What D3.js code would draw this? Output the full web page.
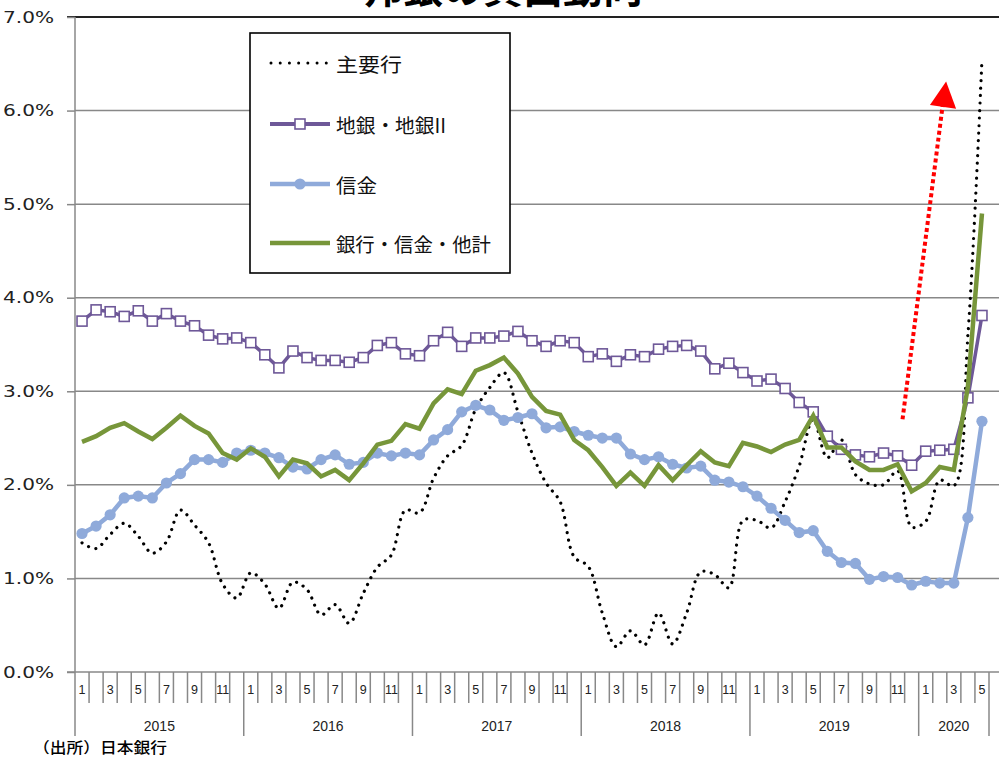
<!DOCTYPE html>
<html><head><meta charset="utf-8">
<script src="https://cdn.jsdelivr.net/npm/d3@7"></script>
<style>
html,body{margin:0;padding:0;background:#fff;}
svg{display:block;}
</style></head>
<body>
<div id="chart"></div>
<script>
// ---- data ----
const years = [2015, 2016, 2017, 2018, 2019, 2020];
const monthsPerYear = [12, 12, 12, 12, 12, 5];
const yTicks = [0, 1, 2, 3, 4, 5, 6, 7];
const seriesNames = ["主要行", "地銀・地銀II", "信金", "銀行・信金・他計"];
const titleText = "邦銀の貸出動向";
const sourceText = "（出所）日本銀行";

const majorBanks = [
  1.38,1.32,1.47,1.59,1.45,1.27,1.39,1.73,1.57,1.38,0.94,0.79,
  1.06,0.94,0.68,0.96,0.88,0.61,0.72,0.52,0.84,1.12,1.25,1.73,
  1.70,2.07,2.31,2.42,2.81,3.04,3.20,2.78,2.34,2.02,1.82,1.23,
  1.13,0.63,0.27,0.44,0.29,0.63,0.30,0.63,1.07,1.04,0.90,1.62,
  1.62,1.54,1.82,2.20,2.70,2.29,2.48,2.11,2.01,2.00,2.15,1.55,
  1.61,2.05,1.99,3.60,6.55
];
const regionalBanks = [
  3.75,3.87,3.85,3.80,3.86,3.75,3.83,3.75,3.70,3.60,3.56,3.57,
  3.52,3.39,3.25,3.43,3.36,3.33,3.33,3.31,3.36,3.49,3.52,3.40,
  3.38,3.54,3.63,3.48,3.57,3.57,3.59,3.64,3.54,3.48,3.54,3.52,
  3.37,3.40,3.32,3.39,3.37,3.45,3.48,3.49,3.43,3.24,3.30,3.20,
  3.11,3.13,3.03,2.88,2.78,2.52,2.38,2.32,2.30,2.34,2.31,2.21,
  2.36,2.37,2.38,2.93,3.81
];
const shinkin = [
  1.48,1.56,1.68,1.86,1.88,1.86,2.02,2.12,2.27,2.27,2.24,2.34,
  2.37,2.34,2.29,2.19,2.17,2.27,2.32,2.22,2.24,2.34,2.31,2.34,
  2.32,2.48,2.59,2.78,2.85,2.80,2.69,2.72,2.76,2.61,2.62,2.57,
  2.53,2.50,2.50,2.33,2.27,2.30,2.22,2.18,2.20,2.05,2.03,1.98,
  1.88,1.75,1.62,1.49,1.51,1.29,1.17,1.16,0.99,1.02,1.01,0.93,
  0.97,0.95,0.95,1.65,2.68
];
const totalAll = [
  2.46,2.52,2.61,2.66,2.57,2.49,2.61,2.74,2.63,2.55,2.34,2.27,
  2.39,2.30,2.09,2.27,2.23,2.09,2.16,2.05,2.23,2.43,2.47,2.65,
  2.60,2.87,3.02,2.97,3.22,3.28,3.36,3.19,2.94,2.79,2.75,2.48,
  2.37,2.19,1.99,2.13,1.99,2.21,2.05,2.21,2.36,2.24,2.20,2.45,
  2.41,2.35,2.43,2.48,2.74,2.40,2.40,2.25,2.16,2.16,2.22,1.93,
  2.02,2.19,2.16,3.05,4.90
];
// annotation arrow (in data units: category index, %)
const arrowStart = [58.35, 2.70];
const arrowEnd = [61.2, 6.05];
const arrowHead = [[61.45, 6.31], [60.3, 6.06], [62.16, 6.02]];

// ---- build categories ----
const cats = [];
years.forEach((yr, yi) => { for (let m = 1; m <= monthsPerYear[yi]; m++) cats.push({year: yr, month: m}); });

const W = 999, H = 759;
const pLeft = 75, pRight = 989, pTop = 17, pBottom = 672;
const svg = d3.select("#chart").append("svg").attr("width", W).attr("height", H);

const xb = d3.scaleBand().domain(d3.range(cats.length)).range([pLeft, pRight]).paddingInner(0).paddingOuter(0);
const bw = xb.bandwidth();
const xi = i => pLeft + (i + 0.5) * bw;
const y = d3.scaleLinear().domain([0, 7]).range([pBottom, pTop]);

const gridCol = "#888888";

// title (mostly cut off at top, as in the reference)
svg.append("text").attr("x", 503).attr("y", 3).attr("text-anchor", "middle")
  .attr("font-family", "Noto Sans CJK JP").attr("font-weight", "bold").attr("font-size", 40)
  .attr("fill", "#000").text(titleText);

// gridlines
svg.append("g").selectAll("line").data(yTicks.filter(v => v > 0 && v < 7)).join("line")
  .attr("x1", pLeft).attr("x2", W).attr("y1", d => y(d)).attr("y2", d => y(d))
  .attr("stroke", gridCol).attr("stroke-width", 1.5);
// top line
svg.append("line").attr("x1", 67).attr("x2", W).attr("y1", y(7)).attr("y2", y(7))
  .attr("stroke", "#222").attr("stroke-width", 2);

// y axis
const yAxis = d3.axisLeft(y).tickValues(yTicks).tickSize(8).tickFormat(d => d3.format(".1f")(d) + "%");
const gy = svg.append("g").attr("transform", `translate(${pLeft},0)`).call(yAxis);
gy.select(".domain").remove();
gy.selectAll(".tick line").attr("stroke", gridCol).attr("stroke-width", 1.5);
gy.selectAll(".tick text").attr("x", -21).attr("dy", null).attr("dominant-baseline", "central")
  .attr("font-family", "DejaVu Sans").attr("font-size", 15.5).attr("fill", "#222")
  .attr("textLength", 51).attr("lengthAdjust", "spacingAndGlyphs");
svg.append("line").attr("x1", pLeft).attr("x2", pLeft).attr("y1", pTop).attr("y2", pBottom)
  .attr("stroke", gridCol).attr("stroke-width", 1.5);

// x axis
svg.append("line").attr("x1", 67).attr("x2", W).attr("y1", pBottom).attr("y2", pBottom)
  .attr("stroke", gridCol).attr("stroke-width", 1.5);
const yearStarts = [];
let acc = 0;
monthsPerYear.forEach(n => { yearStarts.push(acc); acc += n; });
yearStarts.push(acc);
const bounds = d3.range(cats.length + 1);
svg.append("g").selectAll("line").data(bounds).join("line")
  .attr("x1", k => pLeft + k * bw).attr("x2", k => pLeft + k * bw)
  .attr("y1", pBottom).attr("y2", k => yearStarts.includes(k) ? 736 : 703)
  .attr("stroke", gridCol).attr("stroke-width", 1.5);
svg.append("g").selectAll("text").data(cats.map((c, i) => ({...c, i})).filter(c => c.month % 2 === 1)).join("text")
  .attr("x", d => xb(d.i) + bw / 2).attr("y", 693.5).attr("text-anchor", "middle")
  .attr("font-family", "Liberation Sans").attr("font-size", 12.5).attr("fill", "#222")
  .text(d => d.month);
svg.append("g").selectAll("text").data(years).join("text")
  .attr("x", (d, i) => pLeft + (yearStarts[i] + monthsPerYear[i] / 2) * bw).attr("y", 731)
  .attr("text-anchor", "middle").attr("font-family", "Liberation Sans").attr("font-size", 14)
  .attr("fill", "#222").text(d => d);

// series
const lineLin = d3.line().x((d, i) => xi(i)).y(d => y(d));
const lineSmooth = d3.line().x((d, i) => xi(i)).y(d => y(d)).curve(d3.curveCatmullRom.alpha(0.5));

const purple = "#6E5898", blue = "#8FAADA", green = "#77963A";

svg.append("path").datum(majorBanks).attr("d", lineSmooth).attr("fill", "none")
  .attr("stroke", "#000").attr("stroke-width", 3.2).attr("stroke-linecap", "round")
  .attr("stroke-dasharray", "0.01,7.5");

svg.append("path").datum(regionalBanks).attr("d", lineLin).attr("fill", "none")
  .attr("stroke", purple).attr("stroke-width", 3.5);
svg.append("g").selectAll("rect").data(regionalBanks).join("rect")
  .attr("x", (d, i) => xi(i) - 5).attr("y", d => y(d) - 5).attr("width", 10).attr("height", 10)
  .attr("fill", "#fff").attr("stroke", purple).attr("stroke-width", 1.6);

svg.append("path").datum(shinkin).attr("d", lineLin).attr("fill", "none")
  .attr("stroke", blue).attr("stroke-width", 4.5);
svg.append("g").selectAll("circle").data(shinkin).join("circle")
  .attr("cx", (d, i) => xi(i)).attr("cy", d => y(d)).attr("r", 5.6).attr("fill", blue);

svg.append("path").datum(totalAll).attr("d", lineLin).attr("fill", "none")
  .attr("stroke", green).attr("stroke-width", 4.5).attr("stroke-linejoin", "miter");

// red annotation arrow
svg.append("line").attr("x1", xi(arrowStart[0])).attr("y1", y(arrowStart[1]))
  .attr("x2", xi(arrowEnd[0])).attr("y2", y(arrowEnd[1]))
  .attr("stroke", "#FF0000").attr("stroke-width", 4).attr("stroke-dasharray", "4,3");
svg.append("path").attr("d", "M" + arrowHead.map(p => [xi(p[0]), y(p[1])].join(",")).join("L") + "Z")
  .attr("fill", "#FF0000");

// legend
const lg = svg.append("g");
lg.append("rect").attr("x", 250).attr("y", 33).attr("width", 260).attr("height", 240)
  .attr("fill", "#fff").attr("stroke", "#000").attr("stroke-width", 1.6);
const legY = [63, 124, 184, 243];
const legLen = [66, 110, 41, 155];
seriesNames.forEach((name, k) => {
  const yy = legY[k];
  if (k === 0) {
    lg.append("line").attr("x1", 271).attr("x2", 327).attr("y1", yy).attr("y2", yy)
      .attr("stroke", "#000").attr("stroke-width", 3).attr("stroke-linecap", "round")
      .attr("stroke-dasharray", "0.01,9.2");
  } else if (k === 1) {
    lg.append("line").attr("x1", 270).attr("x2", 330).attr("y1", yy).attr("y2", yy)
      .attr("stroke", purple).attr("stroke-width", 4);
    lg.append("rect").attr("x", 295).attr("y", yy - 5).attr("width", 10).attr("height", 10)
      .attr("fill", "#fff").attr("stroke", purple).attr("stroke-width", 1.6);
  } else if (k === 2) {
    lg.append("line").attr("x1", 270).attr("x2", 330).attr("y1", yy).attr("y2", yy)
      .attr("stroke", blue).attr("stroke-width", 4.5);
    lg.append("circle").attr("cx", 300).attr("cy", yy).attr("r", 5.6).attr("fill", blue);
  } else {
    lg.append("line").attr("x1", 270).attr("x2", 330).attr("y1", yy).attr("y2", yy)
      .attr("stroke", green).attr("stroke-width", 4.5);
  }
  lg.append("text").attr("x", 336).attr("y", yy).attr("dominant-baseline", "central")
    .attr("font-family", "Noto Sans CJK JP").attr("font-size", 19.5).attr("fill", "#111")
    .attr("textLength", legLen[k]).attr("lengthAdjust", "spacingAndGlyphs").text(name);
});

// source
svg.append("text").attr("x", 33).attr("y", 753).attr("font-family", "Noto Sans CJK JP")
  .attr("font-size", 15).attr("font-weight", 500).attr("fill", "#000").attr("textLength", 134)
  .attr("lengthAdjust", "spacingAndGlyphs").text(sourceText);
</script>
</body></html>
